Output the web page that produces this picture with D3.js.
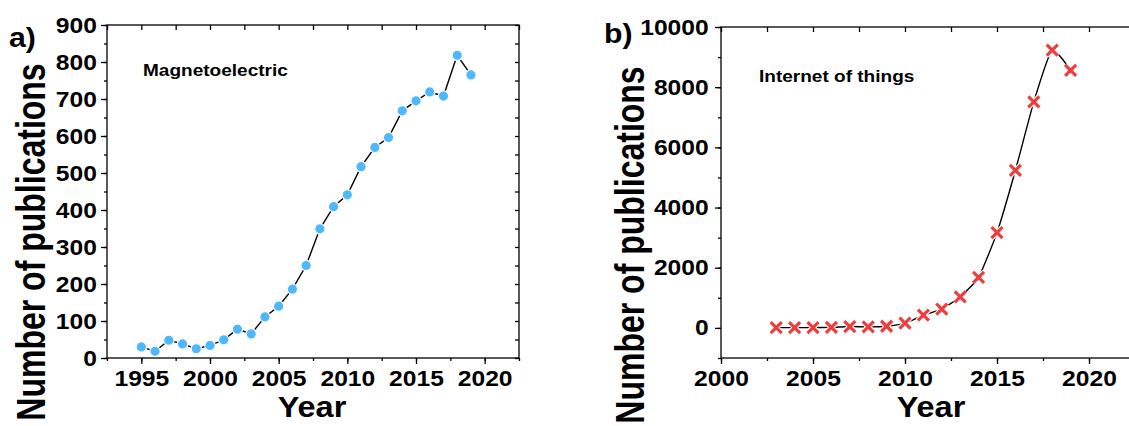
<!DOCTYPE html>
<html>
<head>
<meta charset="utf-8">
<script src="https://cdn.jsdelivr.net/npm/d3@7"></script>
<style>
body { margin: 0; background: #fff; }
svg text { font-family: "Liberation Sans", Arial, sans-serif; font-weight: bold; fill: #000; }
</style>
</head>
<body>
<div id="chart"></div>
<script>
// data
var meYears = [1995, 1996, 1997, 1998, 1999, 2000, 2001, 2002, 2003, 2004, 2005, 2006, 2007,
    2008, 2009, 2010, 2011, 2012, 2013, 2014, 2015, 2016, 2017, 2018, 2019];
var meCounts = [30, 18, 48, 38, 25, 34, 49, 78, 65, 111, 140, 186, 250,
    349, 409, 441, 517, 569, 596, 668, 695, 719, 708, 818, 765];
var iotYears = [2003, 2004, 2005, 2006, 2007, 2008, 2009, 2010, 2011, 2012, 2013, 2014, 2015,
    2016, 2017, 2018, 2019];
var iotCounts = [8, 10, 12, 18, 45, 35, 55, 160, 423, 622, 1033, 1680, 3167,
    5233, 7511, 9233, 8556];

var meXTicks = [1995, 2000, 2005, 2010, 2015, 2020];
var meYTicks = [0, 100, 200, 300, 400, 500, 600, 700, 800, 900];
var iotXTicks = [2000, 2005, 2010, 2015, 2020];
var iotYTicks = [0, 2000, 4000, 6000, 8000, 10000];

var svgWidth = 1129, svgHeight = 426;
var sx = 1.12; // original figure is a bit wider than tall

var svg = d3.select("#chart").append("svg")
    .attr("width", svgWidth)
    .attr("height", svgHeight);

function drawPanel(p) {
    var x = d3.scaleLinear().domain(p.xDomain).range([p.left, p.right]);
    var y = d3.scaleLinear().domain(p.yDomain).range([p.bottom, p.top]);
    var g = svg.append("g");

    var xMinor = d3.range(p.xDomain[0], p.xDomain[1] + 0.01, 2.5);
    var yMinor = d3.range(p.yDomain[0], p.yDomain[1] + 1, p.yStep);

    function clean(a) {
        a.select(".domain").remove();
        a.selectAll("line").attr("stroke", "#000").attr("stroke-width", 1.3);
    }

    // bottom axis
    g.append("g").attr("transform", `translate(0,${p.bottom})`)
        .call(d3.axisBottom(x).tickValues(xMinor).tickSize(3).tickFormat("")).call(clean);
    var xa = g.append("g").attr("transform", `translate(0,${p.bottom})`)
        .call(d3.axisBottom(x).tickValues(p.xTicks).tickSize(6).tickPadding(6).tickFormat(d3.format("d")));
    clean(xa);
    xa.selectAll("text").style("font-size", "22px").attr("transform", `scale(${sx},1)`);

    // top mirror ticks (inward)
    g.append("g").attr("transform", `translate(0,${p.top})`)
        .call(d3.axisBottom(x).tickValues(xMinor).tickSize(5).tickFormat("")).call(clean);

    // left axis
    g.append("g").attr("transform", `translate(${p.left},0)`)
        .call(d3.axisLeft(y).tickValues(yMinor).tickSize(3).tickFormat("")).call(clean);
    var ya = g.append("g").attr("transform", `translate(${p.left},0)`)
        .call(d3.axisLeft(y).tickValues(p.yTicks).tickSize(6).tickPadding(p.yPad).tickFormat(d3.format("d")));
    clean(ya);
    ya.selectAll("text").style("font-size", "22px").attr("transform", `scale(${sx},1)`);

    // right mirror ticks (inward)
    g.append("g").attr("transform", `translate(${p.right},0)`)
        .call(d3.axisLeft(y).tickValues(yMinor).tickSize(4).tickFormat("")).call(clean);

    g.append("rect")
        .attr("x", p.left).attr("y", p.top)
        .attr("width", p.right - p.left).attr("height", p.bottom - p.top)
        .attr("fill", "none").attr("stroke", "#000").attr("stroke-width", 1.3);

    var pts = p.years.map((yr, i) => ({ year: yr, value: p.values[i] }));
    var line = d3.line().x(d => x(d.year)).y(d => y(d.value)).curve(p.curve);
    g.append("path").datum(pts)
        .attr("d", line)
        .attr("fill", "none").attr("stroke", "#000").attr("stroke-width", 1.4);

    if (p.marker === "circle") {
        g.selectAll(".dot").data(pts).enter().append("circle")
            .attr("class", "dot")
            .attr("cx", d => x(d.year)).attr("cy", d => y(d.value))
            .attr("r", 5.2)
            .attr("fill", "#4db8fb").attr("stroke", "#fff").attr("stroke-width", 1.2);
    } else {
        var cross = "M-5.5,-5.5L5.5,5.5M-5.5,5.5L5.5,-5.5";
        g.selectAll(".halo").data(pts).enter().append("path")
            .attr("class", "halo")
            .attr("transform", d => `translate(${x(d.year)},${y(d.value)})`)
            .attr("d", cross).attr("stroke", "#fff").attr("stroke-width", 5.5);
        g.selectAll(".cross").data(pts).enter().append("path")
            .attr("class", "cross")
            .attr("transform", d => `translate(${x(d.year)},${y(d.value)})`)
            .attr("d", cross).attr("stroke", "#ef3d3d").attr("stroke-width", 3.2);
    }

    // labels
    g.append("text")
        .attr("transform", `translate(${p.yTitleX},${p.yTitleY}) rotate(-90) scale(1,1.25)`)
        .attr("text-anchor", "middle").style("font-size", "32px")
        .text("Number of publications");
    g.append("text")
        .attr("transform", `translate(${p.xTitleX},417) scale(${sx},1)`)
        .attr("text-anchor", "middle").style("font-size", "29px")
        .text("Year");
    g.append("text")
        .attr("transform", `translate(${p.tagX},${p.tagY}) scale(${sx},1)`)
        .style("font-size", "27px")
        .text(p.tag);
    g.append("text")
        .attr("transform", `translate(${p.noteX},${p.noteY}) scale(${sx},1)`)
        .style("font-size", "17px")
        .text(p.note);
}

drawPanel({
    left: 107, right: 519, top: 25, bottom: 358,
    xDomain: [1992.5, 2022.5], yDomain: [0, 900], yStep: 50, yPad: 3,
    xTicks: meXTicks, yTicks: meYTicks,
    years: meYears, values: meCounts,
    curve: d3.curveLinear, marker: "circle",
    yTitleX: 45, yTitleY: 242, xTitleX: 312,
    tag: "a)", tagX: 9, tagY: 47,
    note: "Magnetoelectric", noteX: 143, noteY: 76
});

drawPanel({
    left: 721, right: 1135, top: 27, bottom: 358,
    xDomain: [2000, 2022.5], yDomain: [-1000, 10000], yStep: 1000, yPad: 5,
    xTicks: iotXTicks, yTicks: iotYTicks,
    years: iotYears, values: iotCounts,
    curve: d3.curveCardinal.tension(0.5), marker: "cross",
    yTitleX: 644, yTitleY: 245, xTitleX: 931,
    tag: "b)", tagX: 604, tagY: 43,
    note: "Internet of things", noteX: 759, noteY: 82
});
</script>
</body>
</html>
